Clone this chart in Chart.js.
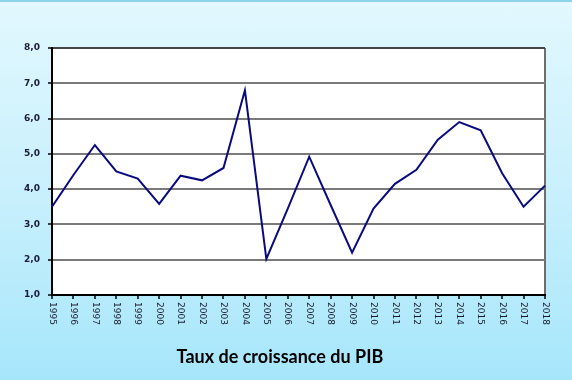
<!DOCTYPE html>
<html><head><meta charset="utf-8">
<script src="https://cdn.jsdelivr.net/npm/chart.js@4/dist/chart.umd.min.js"></script>
<style>
html,body{margin:0;padding:0;}
body{width:572px;height:380px;overflow:hidden;background:linear-gradient(to bottom,#e2f8fe 0%,#c6effc 55%,#a6e6fb 100%);border-top:2px solid #8fd3ea;box-sizing:border-box;}
#wrap{position:absolute;left:0;top:0;width:572px;height:380px;}
</style></head>
<body>
<div id="wrap"><canvas id="c" width="572" height="380"></canvas></div>
<script>
const years = ['1995','1996','1997','1998','1999','2000','2001','2002','2003','2004','2005','2006','2007','2008','2009','2010','2011','2012','2013','2014','2015','2016','2017','2018'];
const growth = [3.5,4.4,5.25,4.5,4.3,3.58,4.38,4.25,4.6,6.8,2.02,3.45,4.92,3.55,2.2,3.45,4.15,4.55,5.4,5.9,5.67,4.45,3.5,4.1];
const yMin = 1, yMax = 8, yStep = 1;
const titleText = 'Taux de croissance du PIB';

const bgPlugin = {
  id:'plotBg',
  beforeDraw(chart){
    const {ctx, chartArea:a} = chart;
    ctx.save(); ctx.fillStyle='#ffffff';
    ctx.fillRect(a.left,a.top,a.right-a.left,a.bottom-a.top);
    ctx.restore();
  },
  afterDraw(chart){
    const ctx = chart.ctx, xs = chart.scales.x;
    ctx.save();
    ctx.font = '9px "DejaVu Sans"';
    ctx.fillStyle = '#1a1a2e';
    ctx.textAlign = 'left'; ctx.textBaseline = 'middle';
    years.forEach((y,i)=>{
      const px = xs.getPixelForTick(i);
      ctx.save();
      ctx.translate(px, chart.chartArea.bottom + 7);
      ctx.rotate(Math.PI/2);
      ctx.fillText(y, 0, 0);
      ctx.restore();
    });
    ctx.restore();
  }
};

new Chart(document.getElementById('c'), {
  type:'line',
  data:{labels:years, datasets:[{data:growth, borderColor:'#0a0a80', borderWidth:2, pointRadius:0, tension:0, fill:false}]},
  plugins:[bgPlugin],
  options:{
    responsive:false, animation:false,
    layout:{padding:{left:0,right:12,top:48,bottom:0}},
    plugins:{
      legend:{display:false}, tooltip:{enabled:false},
      title:{display:true, text:titleText, position:'bottom', color:'#000000',
        font:{family:'Lato', size:18, weight:'bold'}, padding:{top:10,bottom:12}}
    },
    scales:{
      x:{
        offset:false,
        ticks:{display:false},
        grid:{drawOnChartArea:true, color:(c)=> c.index===years.length-1 ? '#6e6e6e' : 'rgba(0,0,0,0)', lineWidth:2, tickLength:4, tickColor:'#000', tickWidth:1.5},
        border:{display:true, color:'#000', width:2},
        afterFit(s){ s.height = 380 - 295 - (10 + 18*1.2 + 12); }
      },
      y:{
        min:yMin, max:yMax,
        ticks:{stepSize:yStep, color:'#1a1a3a', padding:8,
          font:{family:'"DejaVu Sans"', size:9, weight:'bold'},
          callback:(v)=> v.toFixed(1).replace('.',',')},
        grid:{color:(c)=> c.tick && c.tick.value===yMax ? '#444' : '#7a7a7a', lineWidth:2, tickLength:4, tickColor:'#000', tickWidth:1.5},
        border:{display:true, color:'#000', width:2},
        afterFit(s){ s.width = 52; }
      },
      y2:{
        position:'right', min:yMin, max:yMax,
        ticks:{display:false}, grid:{display:false, drawTicks:false}, border:{display:false},
        afterFit(s){ s.width = 15; }
      }
    }
  }
});
</script>
</body></html>
